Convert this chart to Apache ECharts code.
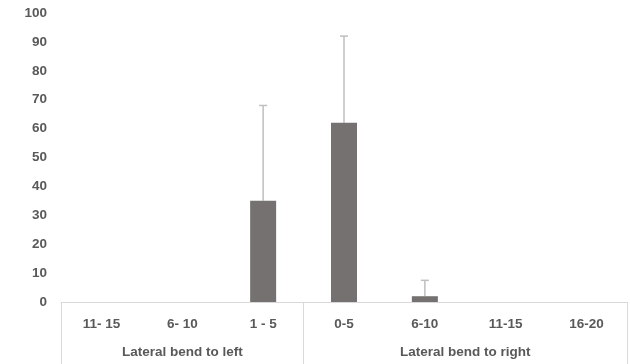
<!DOCTYPE html>
<html><head><meta charset="utf-8">
<script src="https://cdn.jsdelivr.net/npm/echarts@6/dist/echarts.min.js"></script>
<style>html,body{margin:0;padding:0;background:#fff}#c{width:630px;height:364px}</style>
</head><body><div id="c"></div>
<script>
var categories = ['11- 15', '6- 10', '1 - 5', '0-5', '6-10', '11-15', '16-20'];
var groupLabels = ['Lateral bend to left', 'Lateral bend to right'];
var groupCenters = [1.5, 5];
var groupStarts = [0, 3];
var values = [0, 0, 35, 62, 2, 0, 0];
var errors = [0, 0, 33, 30, 5.5, 0, 0];
var yTicks = [0, 10, 20, 30, 40, 50, 60, 70, 80, 90, 100];

var chart = echarts.init(document.getElementById('c'));
var txt = {color: '#595959', fontWeight: 'bold', fontFamily: 'Liberation Sans', fontSize: 13.5};
chart.setOption({
  animation: false,
  grid: {left: 61, right: 2, top: 13, bottom: 62},
  xAxis: [{
    type: 'category', data: categories, boundaryGap: true,
    axisLine: {lineStyle: {color: '#d9d9d9', width: 1}},
    axisTick: {show: true, length: 62, lineStyle: {color: '#d9d9d9'},
      interval: function (i) { return groupStarts.indexOf(i) >= 0; }},
    axisLabel: Object.assign({margin: 15, interval: 0}, txt)
  }, {
    type: 'value', position: 'bottom', min: 0, max: 7, interval: 0.5,
    axisLine: {show: false}, axisTick: {show: false}, splitLine: {show: false},
    axisLabel: Object.assign({margin: 43, showMinLabel: true, showMaxLabel: true,
      formatter: function (v) { var k = groupCenters.indexOf(v); return k >= 0 ? groupLabels[k] : ''; }}, txt)
  }],
  yAxis: {
    type: 'value', min: yTicks[0], max: yTicks[yTicks.length - 1], interval: 10,
    axisLine: {show: false}, axisTick: {show: false}, splitLine: {show: false},
    axisLabel: Object.assign({margin: 14}, txt)
  },
  series: [{
    type: 'bar', data: values, barWidth: 26, xAxisIndex: 0,
    itemStyle: {color: '#767171'}
  }, {
    type: 'custom', xAxisIndex: 0, z: 1,
    data: values.map(function (v, i) { return [i, v, v + errors[i]]; }).filter(function (d) { return d[2] > d[1]; }),
    renderItem: function (params, api) {
      var lo = api.coord([api.value(0), api.value(1)]);
      var hi = api.coord([api.value(0), api.value(2)]);
      var st = {stroke: '#bfbfbf', lineWidth: 1.5};
      return {type: 'group', children: [
        {type: 'line', shape: {x1: lo[0], y1: lo[1], x2: hi[0], y2: hi[1]}, style: st},
        {type: 'line', shape: {x1: hi[0] - 4, y1: hi[1], x2: hi[0] + 4, y2: hi[1]}, style: st}
      ]};
    }
  }]
});
</script></body></html>
